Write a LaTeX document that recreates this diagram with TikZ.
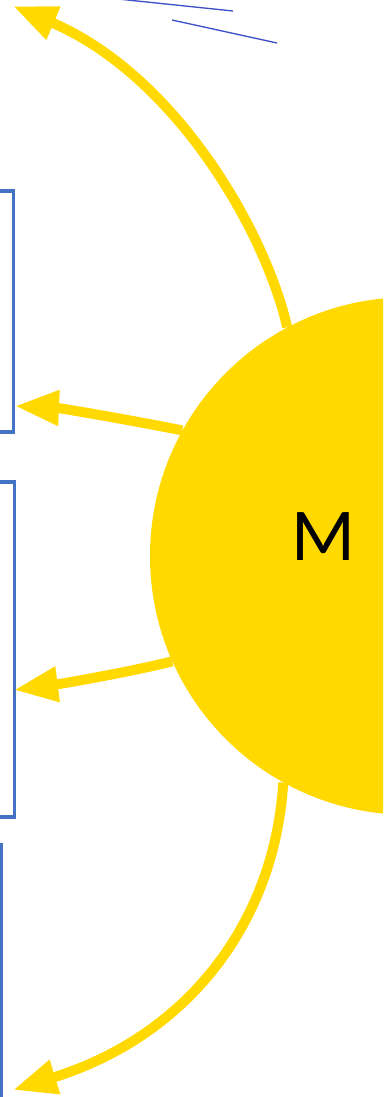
\documentclass[tikz,border=0pt]{standalone}
\usepackage{fontspec}
\setmainfont{Carlito}
\usetikzlibrary{arrows.meta}
\definecolor{sunyellow}{RGB}{255,217,0}
\definecolor{boxblue}{RGB}{68,114,196}
\definecolor{lineblue}{RGB}{60,80,200}
\begin{document}
\begin{tikzpicture}[x=0.75pt,y=-0.75pt,
  ray/.style={draw=sunyellow,line width=7.5pt,-{Triangle[length=33pt,width=25pt]}},
  frame/.style={draw=boxblue,line width=2.6pt},
  stroke/.style={draw=lineblue,line width=1pt}]
\useasboundingbox (0,0) rectangle (383,1097);
\clip (0,0) rectangle (383,1097);
% boxes
\draw[frame] (-30,191) rectangle (13.5,432);
\draw[frame] (-30,482) rectangle (14.5,817);
\draw[frame] (-30,845) rectangle (1.5,1130);
% top lines
\coordinate (l1a) at (118,-1); \coordinate (l1b) at (233,11);
\coordinate (l2a) at (172,20); \coordinate (l2b) at (277,43);
\draw[stroke] (l1a) -- (l1b);
\draw[stroke] (l2a) -- (l2b);
% sun
\node[circle,fill=sunyellow,minimum size=388.2pt,inner sep=0pt] (sun) at (408.8,556) {};
\node[font=\fontsize{56}{60}\selectfont] (m) at (323,537) {M};
% tips
\coordinate (t1) at (13,6);
\coordinate (t2) at (15,406);
\coordinate (t3) at (14,690);
\coordinate (t4) at (13,1090);
% rays
\draw[ray] (sun.118) .. controls (265,230) and (175,75) .. (t1);
\draw[ray] (sun.151) .. controls (130,420) and (60,408) .. (t2);
\draw[ray] (sun.204) .. controls (130,672) and (60,684) .. (t3);
\draw[ray] (sun.241.6) .. controls (275,920) and (190,1035) .. (t4);
\end{tikzpicture}
\end{document}
